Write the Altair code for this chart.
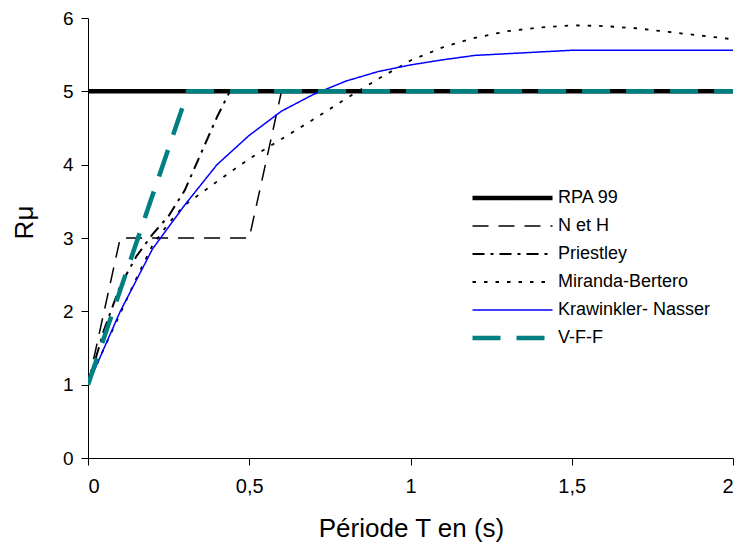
import altair as alt
import pandas as pd

series_names = ["RPA 99", "N et H", "Priestley", "Miranda-Bertero", "Krawinkler- Nasser", "V-F-F"]

rpa_T = [0, 2]
rpa_R = [5, 5]

neth_T = [0, 0.1, 0.5, 0.6, 2]
neth_R = [1, 3, 3, 5, 5]

pri_T = [0, 0.05, 0.1, 0.15, 0.2, 0.25, 0.3, 0.35, 0.4, 0.44, 2]
pri_R = [1, 1.75, 2.35, 2.75, 3.05, 3.3, 3.65, 4.15, 4.65, 5, 5]

mb_T = [0, 0.05, 0.1, 0.15, 0.2, 0.25, 0.3, 0.4, 0.5, 0.6, 0.7, 0.8, 0.9, 1.0,
        1.1, 1.2, 1.3, 1.4, 1.5, 1.6, 1.7, 1.8, 1.9, 2.0]
mb_R = [1, 1.5, 1.97, 2.45, 2.9, 3.2, 3.45, 3.77, 4.08, 4.35, 4.62, 4.9, 5.17, 5.42,
        5.6, 5.73, 5.82, 5.87, 5.9, 5.89, 5.86, 5.81, 5.76, 5.71]

kn_T = [0, 0.1, 0.2, 0.3, 0.4, 0.5, 0.6, 0.7, 0.8, 0.9, 1.0, 1.1, 1.2, 1.5, 2.0]
kn_R = [1, 2.0, 2.85, 3.45, 4.0, 4.4, 4.73, 4.96, 5.14, 5.27, 5.36, 5.43, 5.49, 5.56, 5.56]

vff_T = [0, 0.31, 2]
vff_R = [1, 5, 5]

x_ticks = [0, 0.5, 1, 1.5, 2]
y_ticks = [0, 1, 2, 3, 4, 5, 6]

series_data = [
    ("RPA 99", rpa_T, rpa_R),
    ("N et H", neth_T, neth_R),
    ("Priestley", pri_T, pri_R),
    ("Miranda-Bertero", mb_T, mb_R),
    ("Krawinkler- Nasser", kn_T, kn_R),
    ("V-F-F", vff_T, vff_R),
]

rows = []
for k, (name, Ts, Rs) in enumerate(series_data):
    for i, (t, r) in enumerate(zip(Ts, Rs)):
        rows.append({"serie": name, "T": t, "R": r, "i": i, "k": k})
df = pd.DataFrame(rows)

color_range = ["#000000", "#000000", "#000000", "#000000", "#0000FF", "#008080"]
dash_range = [[1, 0], [16, 10], [12, 6, 3, 6], [3.5, 8], [1, 0], [28, 16]]
width_range = [4.5, 1.5, 2, 1.8, 1.5, 4.5]

FONT = "Liberation Sans"

legend = alt.Legend(
    title=None,
    orient="none",
    legendX=382,
    legendY=169,
    symbolType="stroke",
    symbolSize=6400,
    clipHeight=22,
    rowPadding=6,
    labelOffset=3,
    labelFont=FONT,
    labelFontSize=18,
    labelColor="black",
    padding=0,
    labelLimit=300,
)

chart = alt.Chart(df).mark_line(clip=True).encode(
    x=alt.X(
        "T:Q",
        scale=alt.Scale(domain=[0, 2], nice=False, zero=False),
        axis=alt.Axis(
            values=x_ticks,
            labelExpr="replace(format(datum.value, ''), '.', ',')",
            title="Période T en (s)",
            titleX=323,
            titleY=70,
            titleBaseline="middle",
            labelPadding=11,
            labelFontSize=20,
        ),
    ),
    y=alt.Y(
        "R:Q",
        scale=alt.Scale(domain=[0, 6], nice=False),
        axis=alt.Axis(
            values=y_ticks,
            title="Rμ",
            titleX=-64,
            titleY=204,
            titleAngle=-90,
            titleBaseline="middle",
            titleAlign="center",
            labelPadding=8,
            labelFontSize=19,
        ),
    ),
    color=alt.Color("serie:N", scale=alt.Scale(domain=series_names, range=color_range), legend=legend),
    strokeDash=alt.StrokeDash("serie:N", scale=alt.Scale(domain=series_names, range=dash_range), legend=legend),
    strokeWidth=alt.StrokeWidth("serie:N", scale=alt.Scale(type="ordinal", domain=series_names, range=width_range), legend=legend),
    order=alt.Order("i:Q"),
).properties(
    width=645,
    height=440,
    autosize=alt.AutoSizeParams(type="none"),
    padding={"left": 80, "top": 10, "right": 2, "bottom": 85},
    background="white",
).configure_view(
    stroke=None
).configure_axis(
    grid=False,
    domainColor="black",
    domainWidth=1,
    tickColor="black",
    tickSize=7,
    tickWidth=1,
    labelColor="black",
    labelFont=FONT,
    labelFontSize=20,
    titleColor="black",
    titleFont=FONT,
    titleFontSize=26,
    titleFontWeight="normal",
).configure_legend(
    labelFont=FONT,
    labelFontSize=18,
    labelColor="black",
    labelLimit=300,
)

chart.save("out.html", embed_options={"renderer": "svg", "actions": False})
